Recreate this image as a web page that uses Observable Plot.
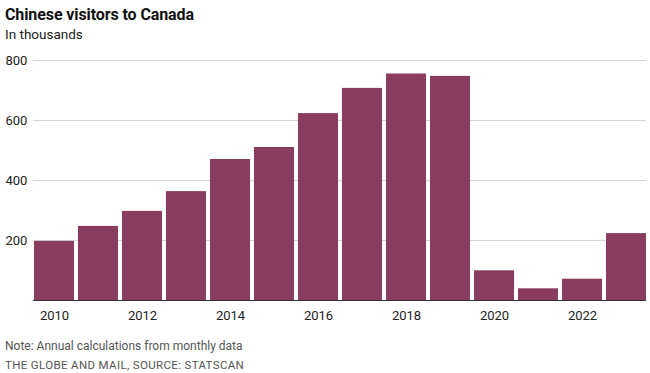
<!DOCTYPE html>
<html>
<head>
<meta charset="utf-8">
<script src="https://cdn.jsdelivr.net/npm/d3@7"></script>
<script src="https://cdn.jsdelivr.net/npm/@observablehq/plot@0.6"></script>
<style>
  html, body { margin: 0; padding: 0; background: #fff; }
  body { width: 650px; height: 373px; position: relative; overflow: hidden;
         font-family: "Roboto", sans-serif; color: #222; }
  #title { position: absolute; left: 5px; top: 5px; font-size: 16px; font-weight: bold; color: #111; white-space: nowrap; letter-spacing: -0.1px; }
  #subtitle { position: absolute; left: 5px; top: 26px; font-size: 13.5px; color: #222; white-space: nowrap; }
  #chart { position: absolute; left: 0; top: 40px; }
  #note { position: absolute; left: 5px; top: 339px; font-size: 12px; color: #555; white-space: nowrap; }
  #source { position: absolute; left: 5px; top: 358px; font-size: 11.5px; color: #555; letter-spacing: 0.35px; white-space: nowrap; }
</style>
</head>
<body>
<div id="title">Chinese visitors to Canada</div>
<div id="subtitle">In thousands</div>
<div id="chart"></div>
<div id="note">Note: Annual calculations from monthly data</div>
<div id="source">THE GLOBE AND MAIL, SOURCE: STATSCAN</div>
<script>
const years = [2010, 2011, 2012, 2013, 2014, 2015, 2016, 2017, 2018, 2019, 2020, 2021, 2022, 2023];
const visitors = [197, 247, 297, 363, 470, 510, 623, 707, 755, 747, 99, 39, 71, 223];
const yTicks = [200, 400, 600, 800];
const xTickYears = [2010, 2012, 2014, 2016, 2018, 2020, 2022];

const data = years.map((y, i) => ({year: y, value: visitors[i]}));
const barColor = "#8a3c5f";

const chart = Plot.plot({
  width: 650,
  height: 290,
  marginLeft: 33,
  marginRight: 4,
  marginTop: 20,
  marginBottom: 30,
  style: {fontFamily: "Roboto, sans-serif", fontSize: "13px", color: "#222", background: "transparent"},
  x: {type: "band", domain: years, padding: 0.1, paddingOuter: 0, label: null},
  y: {domain: [0, 800], label: null},
  marks: [
    Plot.ruleY(yTicks, {stroke: "#d6d6d6", strokeWidth: 1}),
    Plot.barY(data, {x: "year", y: "value", fill: barColor}),
    Plot.ruleY([0], {stroke: "#333", strokeWidth: 1}),
    Plot.axisY(yTicks, {tickSize: 0, tickPadding: 0, textAnchor: "start", dx: -28, label: null, fontSize: 13}),
    Plot.axisX(xTickYears, {tickSize: 0, tickPadding: 10, label: null, fontSize: 13, tickFormat: d => String(d)})
  ]
});
document.getElementById("chart").appendChild(chart);
</script>
</body>
</html>
